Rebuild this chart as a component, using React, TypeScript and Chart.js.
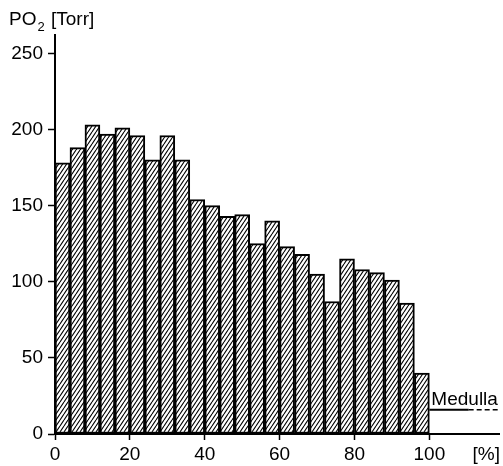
import React, { useEffect, useRef } from "react";
import { Chart, registerables } from "chart.js";

Chart.register(...registerables);

// ---- data ----
const binCenters = [2, 6, 10, 14, 18, 22, 26, 30, 34, 38, 42, 46, 50, 54, 58, 62, 66, 70, 74, 78, 82, 86, 90, 94, 98];
const po2Values = [178, 188, 203, 197, 201, 196, 180, 196, 180, 154, 150, 143, 144, 125, 140, 123, 118, 105, 87, 115, 108, 106, 101, 86, 40];
const xTickValues = [0, 20, 40, 60, 80, 100];
const xUnitTickValue = 115.2;
const xUnitLabel = "[%]";
const yTickValues = [0, 50, 100, 150, 200, 250];
const medullaLevel = 16;
const medullaSolidX = [100, 110.5];
const medullaDashedX = [110.5, 118.8];
const medullaLabel = "Medulla";
const yTitleMain = "PO";
const yTitleSub = "2";
const yTitleUnit = "[Torr]";

const FONT = "'Liberation Sans', Arial, sans-serif";

function makeHatch(): CanvasPattern | string {
  const c = document.createElement("canvas");
  const w = 4;
  const h = 6;
  c.width = w;
  c.height = h;
  const g = c.getContext("2d");
  if (!g) return "#999";
  g.fillStyle = "#fff";
  g.fillRect(0, 0, w, h);
  g.strokeStyle = "#000";
  g.lineWidth = 1.1;
  g.beginPath();
  for (const dx of [-w, 0, w]) {
    g.moveTo(dx, h);
    g.lineTo(dx + w, 0);
  }
  g.stroke();
  return g.createPattern(c, "repeat") || "#999";
}

const textPlugin = {
  id: "textPlugin",
  afterDraw(chart: any) {
    const ctx = chart.ctx as CanvasRenderingContext2D;
    const xs = chart.scales.x;
    const ys = chart.scales.y;
    ctx.save();
    ctx.fillStyle = "#000";
    ctx.textBaseline = "alphabetic";
    ctx.textAlign = "left";
    // y title
    ctx.font = `19px ${FONT}`;
    ctx.fillText(yTitleMain, 9, 25);
    const w1 = ctx.measureText(yTitleMain).width;
    ctx.font = `13px ${FONT}`;
    ctx.fillText(yTitleSub, 9 + w1 + 1, 31);
    ctx.font = `19px ${FONT}`;
    ctx.fillText(yTitleUnit, 51, 25);
    // Medulla label
    ctx.font = `19px ${FONT}`;
    ctx.fillText(medullaLabel, xs.getPixelForValue(100) + 2, ys.getPixelForValue(medullaLevel) - 5);
    ctx.restore();
  },
};

export default function App() {
  const ref = useRef<HTMLCanvasElement>(null);

  useEffect(() => {
    document.body.style.margin = "0";
    const canvas = ref.current;
    if (!canvas) return;
    const hatch = makeHatch();
    const chart = new Chart(canvas, {
      type: "bar",
      data: {
        datasets: [
          {
            type: "bar",
            data: binCenters.map((x, i) => ({ x, y: po2Values[i] })),
            backgroundColor: hatch as any,
            borderColor: "#000",
            borderWidth: 2,
            borderSkipped: false,
            barPercentage: 1,
            categoryPercentage: 1,
          } as any,
          {
            type: "line",
            data: medullaSolidX.map((x) => ({ x, y: medullaLevel })),
            borderColor: "#000",
            borderWidth: 2,
            pointRadius: 0,
            fill: false,
          } as any,
          {
            type: "line",
            data: medullaDashedX.map((x) => ({ x, y: medullaLevel })),
            borderColor: "#000",
            borderWidth: 1.5,
            borderDash: [5, 3],
            pointRadius: 0,
            fill: false,
          } as any,
        ],
      },
      options: {
        responsive: false,
        animation: false,
        devicePixelRatio: 1,
        layout: { padding: { top: 35, right: 0, left: 0, bottom: 0 } },
        plugins: { legend: { display: false }, tooltip: { enabled: false } },
        scales: {
          x: {
            type: "linear",
            min: 0,
            max: 118.8,
            offset: false,
            grid: {
              offset: false,
              drawOnChartArea: false,
              drawTicks: true,
              tickLength: 6,
              tickWidth: 1.5,
              tickColor: (ctx: any) => (ctx.tick && ctx.tick.value > 100 ? "rgba(0,0,0,0)" : "#000"),
            },
            border: { display: true, color: "#000", width: 2 },
            afterBuildTicks: (axis: any) => {
              axis.ticks = [...xTickValues, xUnitTickValue].map((v) => ({ value: v }));
            },
            afterFit: (axis: any) => {
              axis.height = 32;
            },
            ticks: {
              autoSkip: false,
              maxRotation: 0,
              padding: 3,
              color: "#000",
              font: { family: FONT, size: 19 },
              callback: (v: any) => (Number(v) > 100 ? xUnitLabel : String(v)),
            },
          },
          y: {
            type: "linear",
            min: 0,
            max: 262,
            grid: {
              offset: false,
              drawOnChartArea: false,
              drawTicks: true,
              tickLength: 7,
              tickWidth: 1.5,
              tickColor: "#000",
            },
            border: { display: true, color: "#000", width: 2 },
            afterBuildTicks: (axis: any) => {
              axis.ticks = yTickValues.map((v) => ({ value: v }));
            },
            afterFit: (axis: any) => {
              axis.width = 55;
            },
            ticks: {
              padding: 5,
              color: "#000",
              font: { family: FONT, size: 19 },
              callback: (v: any) => String(v),
            },
          },
        },
      } as any,
      plugins: [textPlugin],
    });
    return () => chart.destroy();
  }, []);

  return (
    <div style={{ position: "absolute", left: 0, top: 0, width: 503, height: 466 }}>
      <canvas ref={ref} width={503} height={466} style={{ display: "block" }} />
    </div>
  );
}
